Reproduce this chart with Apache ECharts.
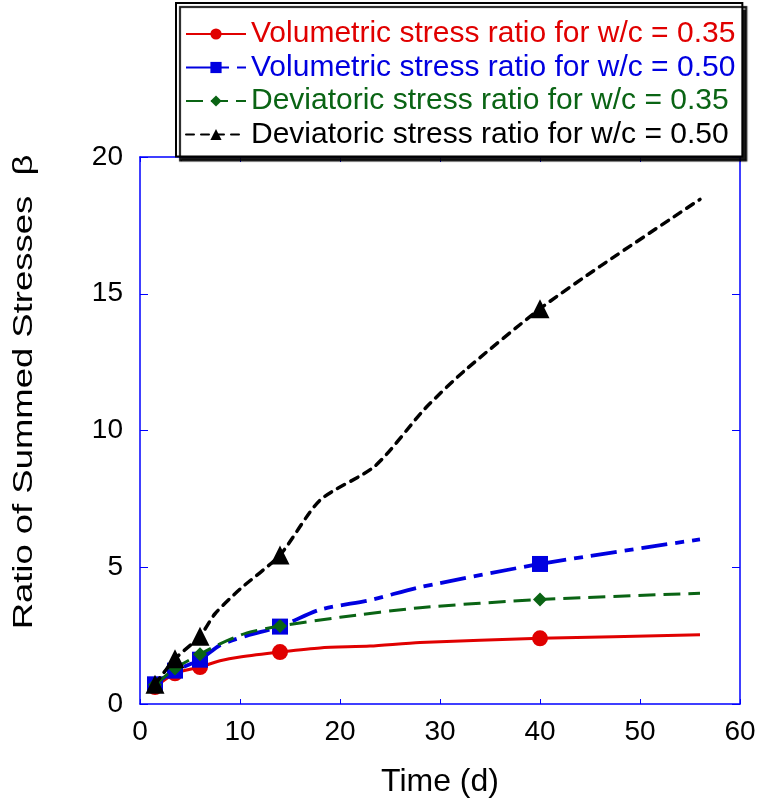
<!DOCTYPE html>
<html>
<head>
<meta charset="utf-8">
<script src="https://cdn.jsdelivr.net/npm/echarts@6/dist/echarts.min.js"></script>
<style>html,body{margin:0;padding:0;background:#fff;}#chart{width:760px;height:803px;}</style>
</head>
<body>
<div id="chart"></div>
<script>
// Series names
const seriesNames = [
  'Volumetric stress ratio for w/c = 0.35',
  'Volumetric stress ratio for w/c = 0.50',
  'Deviatoric stress ratio for w/c = 0.35',
  'Deviatoric stress ratio for w/c = 0.50'
];
// Times at which markers are drawn
const markerTimes = [1.5, 3.5, 6, 14, 40];

// Volumetric w/c = 0.35
const volT35 = [1.5, 3.5, 6, 8, 10, 14, 18, 23, 28, 40, 56];
const volV35 = [0.62, 1.12, 1.35, 1.58, 1.72, 1.9, 2.05, 2.12, 2.25, 2.4, 2.53];
// Volumetric w/c = 0.50
const volT50 = [1.5, 3.5, 6, 8, 10.7, 14, 18, 23, 28, 40, 56];
const volV50 = [0.72, 1.22, 1.62, 2.15, 2.5, 2.83, 3.45, 3.8, 4.27, 5.12, 6.02];
// Deviatoric w/c = 0.35
const devT35 = [1.5, 3.5, 6, 8, 10.7, 14, 20, 28, 40, 56];
const devV35 = [0.7, 1.3, 1.82, 2.2, 2.6, 2.85, 3.17, 3.52, 3.82, 4.05];
// Deviatoric w/c = 0.50
const devT50 = [1.5, 3.5, 6, 7.5, 10, 14, 18, 23.5, 28.5, 32.5, 40, 46, 56];
const devV50 = [0.72, 1.65, 2.48, 3.3, 4.2, 5.45, 7.45, 8.7, 10.8, 12.2, 14.45, 16.0, 18.45];

// Axis ticks
const xTicks = [0, 10, 20, 30, 40, 50, 60];
const yTicks = [0, 5, 10, 15, 20];

const colors = ['#e00000', '#0000e0', '#0a6414', '#000000'];
const symbols = ['circle', 'rect', 'diamond', 'triangle'];
const symbolSizes = [16, 16, 14, 19];
const lineStyles = [
  {type: 'solid', width: 3},
  {type: [26, 8, 9, 8], width: 3.8},
  {type: [17, 8], width: 3},
  {type: [8, 7], width: 3.5, cap: 'round'}
];

function build(ts, vs) {
  return ts.map((t, i) => markerTimes.indexOf(t) >= 0
    ? {value: [t, vs[i]]}
    : {value: [t, vs[i]], symbol: 'none'});
}
const allT = [volT35, volT50, devT35, devT50];
const allV = [volV35, volV50, devV35, devV50];

const font = 'Liberation Sans, Arial, sans-serif';
const chart = echarts.init(document.getElementById('chart'));
const series = seriesNames.map((name, k) => ({
  name: name,
  type: 'line',
  smooth: 0.25,
  data: build(allT[k], allV[k]),
  symbol: symbols[k],
  symbolSize: symbolSizes[k],
  showSymbol: true,
  color: colors[k],
  itemStyle: {color: colors[k]},
  lineStyle: Object.assign({color: colors[k]}, lineStyles[k]),
  z: 2 + k
}));

const axisLineStyle = {color: '#0000ff', width: 1.5};
chart.setOption({
  animation: false,
  backgroundColor: '#fff',
  grid: {left: 140, right: 20, top: 157, bottom: 99},
  xAxis: [{
    type: 'value', min: 0, max: 60, interval: 10,
    axisLine: {show: true, onZero: false, lineStyle: axisLineStyle},
    axisTick: {show: true, inside: true, length: 5, lineStyle: {color: '#0000ff'}},
    splitLine: {show: false},
    axisLabel: {color: '#000', fontSize: 28, fontFamily: font, margin: 14},
    name: 'Time (d)', nameLocation: 'middle', nameGap: 62,
    nameTextStyle: {color: '#000', fontSize: 32, fontFamily: font}
  }, {
    type: 'value', min: 0, max: 60, interval: 10, position: 'top',
    axisLine: {show: true, onZero: false, lineStyle: axisLineStyle},
    axisTick: {show: true, inside: true, length: 5, lineStyle: {color: '#0000ff'}},
    splitLine: {show: false}, axisLabel: {show: false}
  }],
  yAxis: [{
    type: 'value', min: 0, max: 20, interval: 5,
    axisLine: {show: true, onZero: false, lineStyle: axisLineStyle},
    axisTick: {show: true, inside: true, length: 8, lineStyle: {color: '#0000ff'}},
    splitLine: {show: false},
    axisLabel: {color: '#000', fontSize: 28, fontFamily: font, margin: 17}
  }, {
    type: 'value', min: 0, max: 20, interval: 5, position: 'right',
    axisLine: {show: true, onZero: false, lineStyle: axisLineStyle},
    axisTick: {show: true, inside: true, length: 8, lineStyle: {color: '#0000ff'}},
    splitLine: {show: false}, axisLabel: {show: false}
  }],
  legend: {
    orient: 'vertical', left: 176, top: 3,
    data: seriesNames.map((n, k) => ({name: n, textStyle: {color: colors[k]}})),
    backgroundColor: '#fff', borderColor: '#000', borderWidth: 2,
    shadowColor: 'rgba(0,0,0,0.9)', shadowBlur: 1, shadowOffsetX: 4, shadowOffsetY: 4,
    padding: [16, 7, 7, 9], itemGap: 3.5, itemWidth: 60, itemHeight: 14,
    textStyle: {fontSize: 30, fontFamily: font},
    z: 10
  },
  graphic: [{
    type: 'text', x: 25, y: 392, rotation: Math.PI / 2, scaleX: 1.35,
    style: {text: 'Ratio of Summed Stresses  β', fill: '#000', fontSize: 27, fontFamily: font,
      align: 'center', verticalAlign: 'middle'}
  }],
  series: series
});
</script>
</body>
</html>
